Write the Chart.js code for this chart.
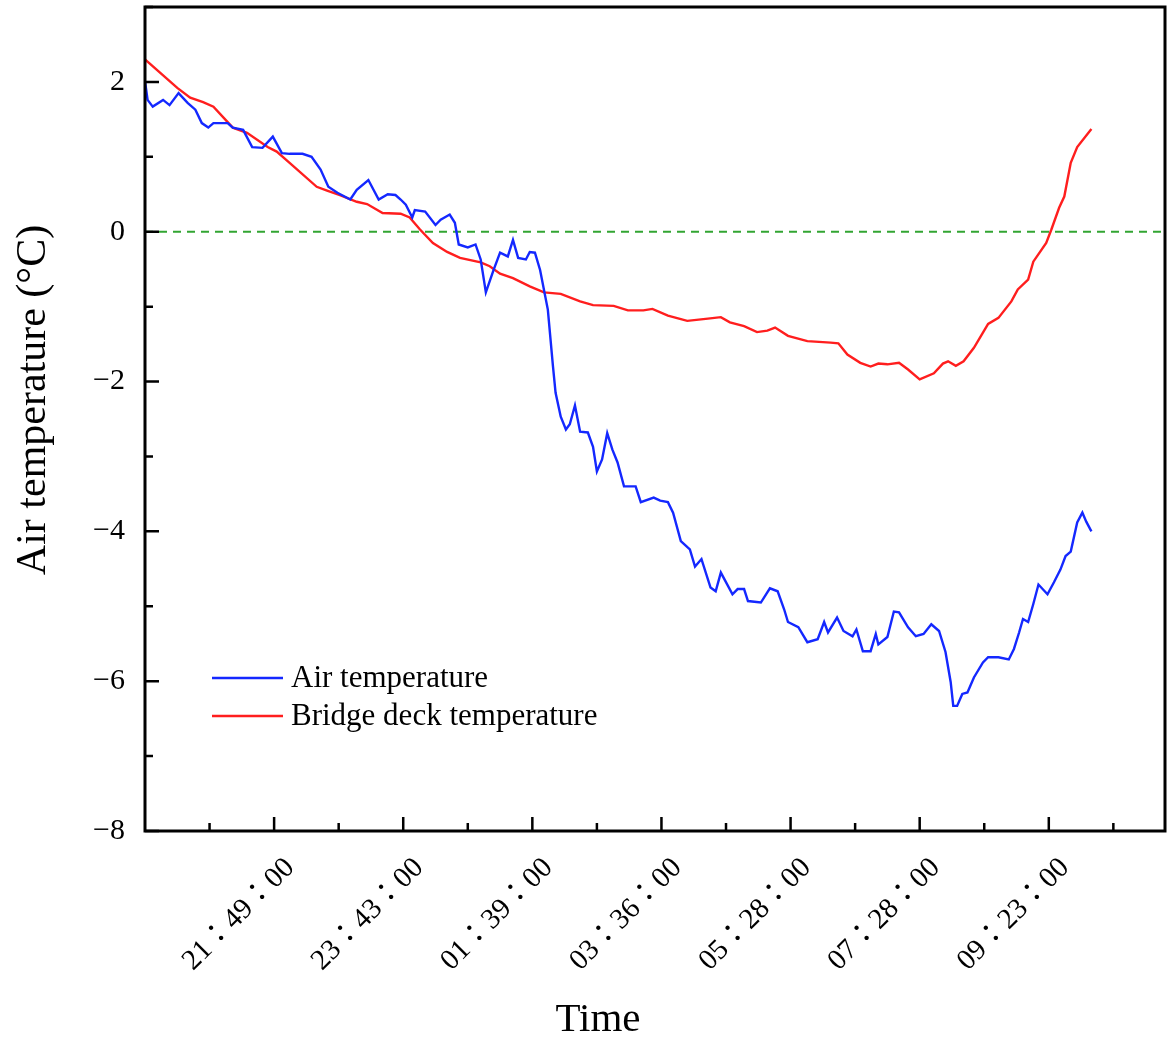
<!DOCTYPE html>
<html lang="en">
<head>
  <meta charset="UTF-8" />
  <title>Air and bridge deck temperature</title>
  <script src="https://cdn.jsdelivr.net/npm/chart.js"></script>
  <style>
    html, body { margin: 0; padding: 0; background: #fff; }
    #wrap { width: 1173px; height: 1045px; position: relative; }
  </style>
</head>
<body>
  <div id="wrap"><canvas id="tempChart"></canvas></div>

  <script>
    // x positions are in major-tick units (tick 1 = 21:49:00 ... tick 7 = 09:23:00)
    const tickPos = [1, 2, 3, 4, 5, 6, 7];
    const tickLabels = ['21：49：00', '23：43：00', '01：39：00', '03：36：00', '05：28：00', '07：28：00', '09：23：00'];
    const yTicks = [-8, -6, -4, -2, 0, 2];

    const airX = [0.00, 0.02, 0.06, 0.14, 0.19, 0.26, 0.33, 0.39, 0.44, 0.49, 0.53, 0.64, 0.68, 0.76, 0.83, 0.91, 0.99,
      1.06, 1.12, 1.22, 1.29, 1.36, 1.42, 1.49, 1.59, 1.64, 1.73, 1.81, 1.88, 1.94, 1.98, 2.02, 2.07, 2.09, 2.17,
      2.25, 2.29, 2.36, 2.40, 2.43, 2.50, 2.56, 2.60, 2.64, 2.70, 2.75, 2.81, 2.85, 2.89, 2.95, 2.98, 3.02, 3.06,
      3.12, 3.16, 3.18, 3.22, 3.26, 3.29, 3.33, 3.37, 3.43, 3.47, 3.50, 3.54, 3.58, 3.62, 3.66, 3.71, 3.80, 3.84,
      3.94, 3.99, 4.05, 4.09, 4.15, 4.22, 4.26, 4.31, 4.38, 4.42, 4.46, 4.55, 4.59, 4.64, 4.67, 4.77, 4.81, 4.84,
      4.90, 4.95, 4.98, 5.06, 5.13, 5.21, 5.26, 5.29, 5.36, 5.41, 5.48, 5.51, 5.56, 5.62, 5.66, 5.68, 5.75, 5.80,
      5.84, 5.91, 5.97, 6.03, 6.09, 6.15, 6.20, 6.24, 6.26, 6.29, 6.33, 6.37, 6.42, 6.49, 6.53, 6.61, 6.69, 6.73,
      6.77, 6.80, 6.84, 6.88, 6.92, 6.99, 7.04, 7.09, 7.13, 7.17, 7.22, 7.26, 7.29, 7.33];
    const airTemp = [2.01, 1.76, 1.67, 1.76, 1.69, 1.85, 1.72, 1.63, 1.45, 1.39, 1.45, 1.45, 1.39, 1.36, 1.13, 1.12, 1.27,
      1.05, 1.04, 1.04, 1.00, 0.83, 0.60, 0.52, 0.43, 0.56, 0.69, 0.43, 0.50, 0.49, 0.43, 0.36, 0.19, 0.29, 0.27,
      0.09, 0.16, 0.23, 0.12, -0.17, -0.21, -0.17, -0.37, -0.81, -0.51, -0.28, -0.33, -0.11, -0.35, -0.37, -0.27, -0.28, -0.51,
      -1.04, -1.80, -2.15, -2.47, -2.64, -2.57, -2.32, -2.67, -2.68, -2.87, -3.20, -3.04, -2.69, -2.91, -3.08, -3.40, -3.40, -3.61,
      -3.55, -3.59, -3.61, -3.75, -4.13, -4.24, -4.47, -4.37, -4.75, -4.80, -4.55, -4.84, -4.77, -4.77, -4.93, -4.95, -4.84, -4.76,
      -4.80, -5.04, -5.21, -5.28, -5.48, -5.44, -5.21, -5.35, -5.15, -5.33, -5.40, -5.31, -5.60, -5.60, -5.37, -5.51, -5.41, -5.07,
      -5.08, -5.28, -5.40, -5.37, -5.24, -5.33, -5.61, -6.01, -6.33, -6.33, -6.17, -6.15, -5.95, -5.75, -5.68, -5.68, -5.71, -5.57,
      -5.35, -5.17, -5.21, -4.97, -4.71, -4.84, -4.68, -4.51, -4.33, -4.27, -3.88, -3.75, -3.87, -4.00];

    const deckX = [0.00, 0.25, 0.35, 0.45, 0.53, 0.68, 0.79, 0.95, 1.02, 1.12, 1.33, 1.41, 1.51, 1.64, 1.72, 1.84, 1.98,
      2.05, 2.13, 2.23, 2.34, 2.44, 2.60, 2.67, 2.75, 2.85, 2.98, 3.09, 3.22, 3.37, 3.47, 3.63, 3.74, 3.86, 3.93,
      4.05, 4.20, 4.36, 4.46, 4.53, 4.64, 4.74, 4.82, 4.88, 4.98, 5.13, 5.31, 5.37, 5.44, 5.54, 5.62, 5.68, 5.75,
      5.84, 5.91, 6.00, 6.11, 6.18, 6.22, 6.28, 6.34, 6.42, 6.53, 6.61, 6.71, 6.76, 6.84, 6.88, 6.98, 7.02, 7.08,
      7.12, 7.17, 7.22, 7.33];
    const deckTemp = [2.30, 1.92, 1.79, 1.73, 1.67, 1.39, 1.32, 1.13, 1.07, 0.92, 0.60, 0.55, 0.49, 0.40, 0.37, 0.25, 0.24,
      0.19, 0.03, -0.15, -0.27, -0.35, -0.41, -0.46, -0.56, -0.62, -0.73, -0.81, -0.83, -0.93, -0.98, -0.99, -1.05, -1.05, -1.03,
      -1.12, -1.19, -1.16, -1.14, -1.21, -1.26, -1.34, -1.32, -1.28, -1.39, -1.46, -1.48, -1.49, -1.64, -1.75, -1.80, -1.76, -1.77,
      -1.75, -1.84, -1.97, -1.89, -1.76, -1.73, -1.79, -1.73, -1.55, -1.23, -1.15, -0.93, -0.77, -0.64, -0.40, -0.15, 0.03, 0.32,
      0.47, 0.92, 1.13, 1.37];

    const xMax = 7.9;
    const serif = "'Liberation Serif', 'Noto Sans CJK TC', serif";

    function toPoints(xs, ys) {
      return xs.map((x, i) => ({ x: x, y: ys[i] }));
    }

    // frame, inward ticks, axis titles and legend
    const framePlugin = {
      id: 'frame',
      afterDraw(chart) {
        const ctx = chart.ctx;
        const a = chart.chartArea;
        const xs = chart.scales.x;
        const ys = chart.scales.y;
        ctx.save();
        ctx.strokeStyle = '#000';
        ctx.lineWidth = 3;
        ctx.strokeRect(a.left, a.top, a.right - a.left, a.bottom - a.top);

        ctx.lineWidth = 2.5;
        ctx.beginPath();
        tickPos.forEach(v => {
          const px = xs.getPixelForValue(v);
          ctx.moveTo(px, a.bottom); ctx.lineTo(px, a.bottom - 14);
        });
        for (let v = 0.5; v < xMax; v += 1) {
          const px = xs.getPixelForValue(v);
          ctx.moveTo(px, a.bottom); ctx.lineTo(px, a.bottom - 8);
        }
        yTicks.forEach(v => {
          const py = ys.getPixelForValue(v);
          ctx.moveTo(a.left, py); ctx.lineTo(a.left + 14, py);
          const mid = ys.getPixelForValue(v + 1);
          ctx.moveTo(a.left, mid); ctx.lineTo(a.left + 8, mid);
        });
        ctx.stroke();

        // axis titles
        ctx.fillStyle = '#000';
        ctx.textAlign = 'center';
        ctx.textBaseline = 'middle';
        ctx.font = '41px ' + serif;
        ctx.fillText('Time', 598, 1020);
        ctx.save();
        ctx.font = '42px ' + serif;
        ctx.translate(34, 400);
        ctx.rotate(-Math.PI / 2);
        ctx.fillText('Air temperature (°C)', 0, 0);
        ctx.restore();

        // legend
        ctx.font = '31px ' + serif;
        ctx.textAlign = 'left';
        [0, 1].forEach(i => {
          const ds = chart.data.datasets[i];
          const ly = 678 + i * 38;
          ctx.strokeStyle = ds.borderColor;
          ctx.lineWidth = 2.5;
          ctx.beginPath();
          ctx.moveTo(212, ly); ctx.lineTo(283, ly);
          ctx.stroke();
          ctx.fillText(ds.label, 291, ly + 1);
        });
        ctx.restore();
      }
    };

    Chart.defaults.font.family = serif;
    Chart.defaults.color = '#000';

    new Chart(document.getElementById('tempChart'), {
      type: 'line',
      data: {
        datasets: [
          {
            label: 'Air temperature',
            data: toPoints(airX, airTemp),
            borderColor: 'rgb(20, 40, 255)',
            borderWidth: 2.4,
            pointRadius: 0,
            tension: 0
          },
          {
            label: 'Bridge deck temperature',
            data: toPoints(deckX, deckTemp),
            borderColor: 'rgb(255, 30, 30)',
            borderWidth: 2.4,
            pointRadius: 0,
            tension: 0
          },
          {
            label: 'zero',
            data: [{ x: 0, y: 0 }, { x: xMax, y: 0 }],
            borderColor: 'rgb(50, 165, 50)',
            borderWidth: 2,
            borderDash: [8, 6],
            pointRadius: 0
          }
        ]
      },
      options: {
        responsive: true,
        maintainAspectRatio: false,
        animation: false,
        layout: { padding: { top: 7, right: 8, left: 0, bottom: 0 } },
        plugins: {
          legend: { display: false },
          tooltip: { enabled: false }
        },
        scales: {
          x: {
            type: 'linear',
            min: 0,
            max: xMax,
            grid: { display: false },
            border: { display: false },
            afterBuildTicks: scale => { scale.ticks = tickPos.map(v => ({ value: v })); },
            afterFit: scale => {
              scale.height = 214;
              scale.paddingLeft = 0;
              scale.paddingRight = 0;
            },
            ticks: {
              autoSkip: false,
              minRotation: 45,
              maxRotation: 45,
              padding: 12,
              labelOffset: 16,
              font: { size: 29 },
              callback: v => tickLabels[tickPos.indexOf(v)]
            }
          },
          y: {
            min: -8,
            max: 3,
            grid: { display: false },
            border: { display: false },
            afterBuildTicks: scale => { scale.ticks = yTicks.map(v => ({ value: v })); },
            afterFit: scale => {
              scale.width = 145;
              scale.paddingTop = 0;
              scale.paddingBottom = 0;
            },
            ticks: {
              padding: 12,
              font: { size: 30 },
              callback: v => (v < 0 ? '\u2212' + Math.abs(v) : String(v))
            }
          }
        }
      },
      plugins: [framePlugin]
    });
  </script>
</body>
</html>
